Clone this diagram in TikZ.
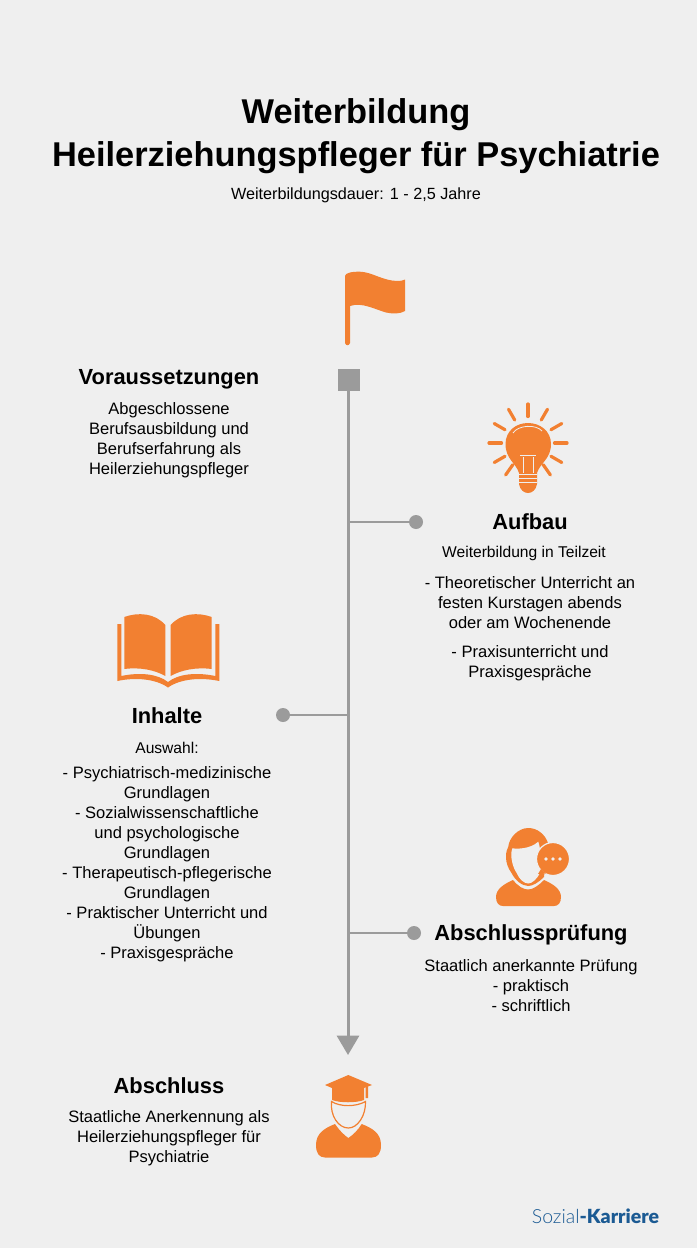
\documentclass[tikz,border=0pt]{standalone}
\usepackage{fontspec}
\setmainfont{Liberation Sans}
\newfontfamily\logolight{Lato Light}
\newfontfamily\logobold{Lato Black}
\usepackage{xcolor}
\usetikzlibrary{arrows.meta}
\definecolor{bgcol}{HTML}{EFEFEF}
\definecolor{iconcol}{HTML}{F28031}
\definecolor{linecol}{HTML}{9B9B9B}
\definecolor{logocol}{HTML}{1B5A93}
\tikzset{headline/.style={font=\bfseries\fontsize{16.4}{20}\selectfont,inner sep=0pt,text=black},
	bodytext/.style={font=\fontsize{12.4}{15}\selectfont,align=center,inner sep=0pt,text=black},
	smallbody/.style={font=\fontsize{11.7}{15}\selectfont,align=center,inner sep=0pt,text=black},
	titletext/.style={font=\bfseries\fontsize{25.8}{32}\selectfont,inner sep=0pt,text=black},
	spine/.style={draw=linecol,line width=2.25pt,-{Triangle[length=14.5pt,width=16.5pt]}},
	branch/.style={draw=linecol,line width=1.5pt},
	enddot/.style={circle,fill=linecol,minimum size=10.5pt,inner sep=0pt},
	startbox/.style={rectangle,fill=linecol,minimum size=16.5pt,inner sep=0pt},
	icon/.style={fill=iconcol,draw=none},
	cutline/.style={draw=bgcol,line width=0.6pt},
	ray/.style={draw=iconcol,line width=2.4pt,line cap=round}}
\begin{document}
\begin{tikzpicture}[x=0.75pt,y=-0.75pt]
	\fill[bgcol] (0,0) rectangle (697,1248);
	\useasboundingbox (0,0) rectangle (697,1248);

	\node[titletext] (titleone) at (356,115) {Weiterbildung};
	\node[titletext] (titletwo) at (356,158) {Heilerziehungspfleger für Psychiatrie};
	\node[smallbody,font=\fontsize{12.15}{15}\selectfont] (duration) at (356,195) {Weiterbildungsdauer: 1 - 2,5 Jahre};

	\node[startbox] (start) at (349,380) {};
	\coordinate (spineend) at (348,1055);
	\coordinate (spinetop) at (348,391);
	\draw[spine] (spinetop) -- (spineend);

	\node[enddot] (dotaufbau) at (416,522) {};
	\node[enddot] (dotinhalte) at (283,715) {};
	\node[enddot] (dotpruefung) at (414,933) {};
	\coordinate (spineaufbau) at (348,522);
	\coordinate (spineinhalte) at (348,715);
	\coordinate (spinepruefung) at (348,933);
	\draw[branch] (spineaufbau) -- (dotaufbau);
	\draw[branch] (spineinhalte) -- (dotinhalte);
	\draw[branch] (spinepruefung) -- (dotpruefung);

	\node[headline] (voraus) at (169,379) {Voraussetzungen};
	\node[bodytext] (vorausbody) at (169,440) {Abgeschlossene\\Berufsausbildung und\\Berufserfahrung als\\Heilerziehungspfleger};

	\node[headline] (aufbau) at (530,522) {Aufbau};
	\node[smallbody] (aufbauone) at (524,553) {Weiterbildung in Teilzeit};
	\node[bodytext] (aufbautwo) at (530,603) {- Theoretischer Unterricht an\\festen Kurstagen abends\\oder am Wochenende};
	\node[bodytext] (aufbauthree) at (530,663) {- Praxisunterricht und\\Praxisgespräche};

	\node[headline] (inhalte) at (167,716) {Inhalte};
	\node[smallbody] (inhalteone) at (167,748) {Auswahl:};
	\node[bodytext] (inhaltetwo) at (167,864) {- Psychiatrisch-medizinische\\Grundlagen\\- Sozialwissenschaftliche\\und psychologische\\Grundlagen\\- Therapeutisch-pflegerische\\Grundlagen\\- Praktischer Unterricht und\\Übungen\\- Praxisgespräche};

	\node[headline] (pruefung) at (531,935) {Abschlussprüfung};
	\node[bodytext] (pruefungbody) at (531,986) {Staatlich anerkannte Prüfung\\- praktisch\\- schriftlich};

	\node[headline] (abschluss) at (169,1086) {Abschluss};
	\node[bodytext] (abschlussbody) at (169,1138) {Staatliche Anerkennung als\\Heilerziehungspfleger für\\Psychiatrie};

	\node[inner sep=0pt,text=logocol,font=\fontsize{14.6}{16}\selectfont] (logo) at (595.5,1216) {{\logolight Sozial}{\logobold -Karriere}};

	\fill[icon] (345,276) .. controls (345,273) and (352,271.5) .. (360,271.7) .. controls (372,272) and (383,281) .. (398,281) .. controls (401,281) and (403,280.5) .. (405,279.5) -- (405,311) .. controls (400,314) and (393,314) .. (386,312.5) .. controls (374,309) and (362,302) .. (350,306) -- (350,343) .. controls (349,346) and (346,346) .. (345,343) -- cycle;

	\foreach \a in {-150,-120,-90,-60,-30,0,30,55,125,150,180}
		\draw[ray] (528,443) ++(\a:26.5) -- ++(\a:12.5);
	\fill[icon] (519,473) .. controls (516,463) and (505.5,459) .. (505.5,444) .. controls (505.5,431) and (516,423) .. (528,423) .. controls (540,423) and (551,431) .. (551,444) .. controls (551,459) and (540,463) .. (537,473) -- (537,484) .. controls (536,490) and (532,493) .. (528,493) .. controls (524,493) and (520,490) .. (519,484) -- cycle;
	\draw[cutline] (513,433) .. controls (518,425) and (536,424) .. (542,431);
	\draw[cutline] (523,457) -- (523,473) (533,457) -- (533,473) (520,455.5) -- (536,455.5);
	\draw[cutline] (519,474.5) -- (537,474.5) (519,478.5) -- (537,478.5) (519,482.5) -- (537,482.5);

	\fill[icon] (124.3,617) .. controls (138,612) and (155,613) .. (165.3,625) -- (165.3,676) .. controls (155,670) and (140,667) .. (124.3,669) -- cycle;
	\fill[icon] (211.7,617) .. controls (198,612) and (181,613) .. (170.7,625) -- (170.7,676) .. controls (181,670) and (196,667) .. (211.7,669) -- cycle;
	\fill[icon] (117.3,624) -- (121.3,624) -- (121.3,676) .. controls (140,672) and (158,674) .. (168,682) .. controls (178,674) and (196,672) .. (215.3,676) -- (215.3,624) -- (219.3,624) -- (219.3,681) .. controls (200,677) and (180,679) .. (168,687.5) .. controls (156,679) and (136,677) .. (117.3,681) -- cycle;

	\fill[icon] (496,897) .. controls (496,889) and (504,884) .. (513,880) .. controls (518,886) and (523,889.5) .. (528,889.5) .. controls (533,889.5) and (538,886) .. (544,880) .. controls (553,884) and (561,889) .. (561,897) .. controls (561,903) and (558,906) .. (554,906) -- (503,906) .. controls (499,906) and (496,903) .. (496,897) -- cycle;
	\fill[icon] (506,857) .. controls (506,852) and (507,849) .. (508.3,846.7) .. controls (509,838) and (518,828) .. (528.3,828) .. controls (537,828) and (545,834) .. (548,843) -- (544,877) .. controls (539,882) and (533,886) .. (528.3,886) .. controls (522,886) and (515,880) .. (511.7,873.3) .. controls (508,868) and (506,863) .. (506,857) -- cycle;
	\fill[bgcol] (512.3,848.3) .. controls (518,849) and (530,849) .. (538.3,841.7) .. controls (541,850) and (542,864) .. (540,873) .. controls (537,879) and (532,883.5) .. (528.3,883.5) .. controls (524,883.5) and (519,879) .. (516.7,873) .. controls (513,868) and (509.5,856) .. (512.3,848.3) -- cycle;
	\fill[icon,draw=bgcol,line width=0.9pt] (553,859) circle[radius=16.5];
	\fill[icon] (541,869) -- (538,874) -- (546,873.5) -- cycle;
	\foreach \x in {546,553,560}
		\fill[bgcol] (\x,859) circle[radius=1.8];

	\fill[icon] (348.3,1075) -- (372,1085) -- (364,1088) -- (364,1100) .. controls (356,1103) and (340,1103) .. (332,1100) -- (332,1088) -- (325,1085) -- cycle;
	\fill[icon] (365.5,1087) -- (368,1086) -- (368,1098) -- (365.5,1098) -- cycle;
	\draw[draw=iconcol,line width=0.9pt] (331.5,1101.5) .. controls (340,1107) and (356,1107) .. (365.5,1101.5) .. controls (366,1115) and (358,1128) .. (348.3,1128) .. controls (338,1128) and (330,1115) .. (331.5,1101.5) -- cycle;
	\fill[icon] (335,1124) .. controls (339,1130) and (344,1135) .. (348.3,1138) .. controls (353,1135) and (358,1130) .. (361.7,1124) .. controls (372,1128) and (381,1133) .. (381,1145) .. controls (381,1153) and (378,1157.5) .. (372,1157.5) -- (325,1157.5) .. controls (319,1157.5) and (316,1153) .. (316,1145) .. controls (316,1133) and (325,1128) .. (335,1124) -- cycle;
\end{tikzpicture}
\end{document}
